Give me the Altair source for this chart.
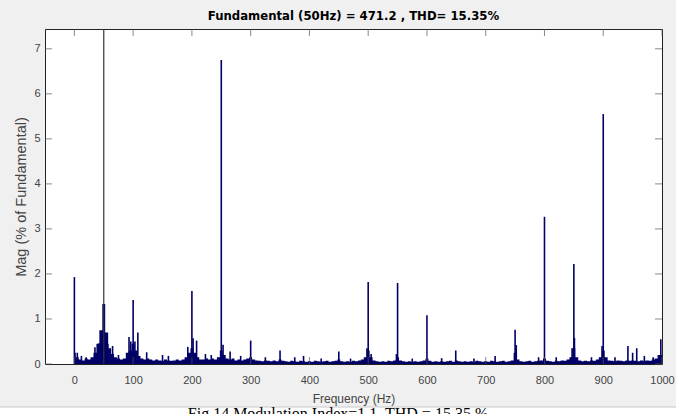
import altair as alt
import pandas as pd

# ---------------- data ----------------
TITLE = "Fundamental (50Hz) = 471.2 , THD= 15.35%"
CAPTION = "Fig.14 Modulation Index=1.1, THD = 15.35 %"

# noise floor of the spectrum, every 5 Hz from 0 to 1000 Hz (% of fundamental)
floor_mag = [
    0.25, 0.15, 0.10, 0.08, 0.12, 0.10, 0.15, 0.25, 0.45, 0.75, 1.33, 0.70, 0.35, 0.22, 0.15, 0.12, 0.10, 0.12, 0.25, 0.30,
    0.45, 0.30, 0.18, 0.12, 0.10, 0.12, 0.10, 0.08, 0.10, 0.08, 0.07, 0.10, 0.08, 0.07, 0.08, 0.10, 0.08, 0.10, 0.15, 0.25,
    0.35, 0.25, 0.15, 0.10, 0.10, 0.12, 0.10, 0.12, 0.10, 0.15, 0.30, 0.20, 0.12, 0.10, 0.12, 0.08, 0.10, 0.08, 0.10, 0.12,
    0.15, 0.10, 0.08, 0.07, 0.06, 0.08, 0.07, 0.06, 0.08, 0.06, 0.10, 0.07, 0.06, 0.05, 0.07, 0.06, 0.05, 0.07, 0.06, 0.05,
    0.06, 0.05, 0.07, 0.06, 0.05, 0.06, 0.07, 0.05, 0.06, 0.07, 0.10, 0.06, 0.05, 0.06, 0.05, 0.07, 0.06, 0.08, 0.10, 0.15,
    0.30, 0.15, 0.08, 0.06, 0.05, 0.06, 0.05, 0.07, 0.06, 0.08, 0.15, 0.08, 0.06, 0.05, 0.06, 0.05, 0.06, 0.05, 0.06, 0.08,
    0.12, 0.07, 0.05, 0.06, 0.05, 0.06, 0.05, 0.06, 0.07, 0.05, 0.08, 0.06, 0.05, 0.06, 0.05, 0.06, 0.05, 0.07, 0.06, 0.05,
    0.06, 0.05, 0.07, 0.06, 0.05, 0.06, 0.07, 0.05, 0.06, 0.08, 0.25, 0.10, 0.06, 0.05, 0.06, 0.07, 0.05, 0.06, 0.07, 0.08,
    0.12, 0.07, 0.06, 0.05, 0.07, 0.06, 0.08, 0.07, 0.10, 0.15, 0.35, 0.15, 0.08, 0.06, 0.07, 0.06, 0.08, 0.07, 0.10, 0.15,
    0.30, 0.15, 0.08, 0.07, 0.06, 0.08, 0.07, 0.06, 0.08, 0.07, 0.08, 0.07, 0.06, 0.08, 0.07, 0.08, 0.07, 0.10, 0.12, 0.20,
    0.20,
]
floor_freq = [i * 5 for i in range(len(floor_mag))]

# individual harmonic / inter-harmonic lines
spike_freq = [0, 100, 200, 250, 300, 500, 550, 600, 750, 800, 850, 900, 998,
              5, 12, 20, 35, 42, 57, 65, 75, 93, 96, 103, 108, 123, 150, 160,
              193, 202, 208, 223, 233, 253, 265, 283, 325, 350, 375, 390, 420,
              450, 470, 498, 505, 548, 575, 625, 649, 680, 716, 752, 790, 820,
              847, 851, 880, 898, 920, 942, 950, 957, 970, 985]
spike_mag = [1.93, 1.42, 1.62, 6.75, 0.52, 1.82, 1.80, 1.08, 0.76, 3.27, 2.22, 5.55, 0.55,
             0.25, 0.18, 0.15, 0.37, 0.46, 0.45, 0.40, 0.20, 0.60, 0.50, 0.50, 0.70, 0.26, 0.20, 0.18,
             0.38, 0.57, 0.52, 0.22, 0.20, 0.43, 0.28, 0.18, 0.15, 0.30, 0.15, 0.18, 0.12,
             0.28, 0.12, 0.35, 0.22, 0.22, 0.12, 0.13, 0.30, 0.12, 0.18, 0.42, 0.15, 0.15,
             0.35, 0.58, 0.15, 0.40, 0.15, 0.40, 0.25, 0.35, 0.18, 0.15]

fund_freq = [50]
fund_mag = [100.0]

x_ticks = [0, 100, 200, 300, 400, 500, 600, 700, 800, 900, 1000]
y_ticks = [0, 1, 2, 3, 4, 5, 6, 7]

# ---------------- chart ----------------
W, H = 617, 335
NAVY = "#000066"
LABEL = "#444444"
FONT = "Liberation Sans, Arial, sans-serif"

xs = alt.Scale(domain=[-50, 1000], nice=False, zero=False)
ys = alt.Scale(domain=[0, 7.44], nice=False, zero=True)

floor_df = pd.DataFrame({"f": floor_freq, "m": floor_mag})
spike_df = pd.DataFrame({"f": spike_freq, "m": spike_mag})
fund_df = pd.DataFrame({"f": fund_freq, "m": fund_mag})
xt_df = pd.DataFrame({"f": x_ticks})
yt_df = pd.DataFrame({"v": y_ticks})
one = pd.DataFrame({"a": [0]})

xaxis = alt.Axis(values=x_ticks, format="d", ticks=False, domain=False, grid=False,
                 labelPadding=10, labelFontSize=11, labelColor=LABEL, labelFont=FONT,
                 title="Frequency (Hz)", titleFontSize=12, titleFontWeight="normal",
                 titleColor=LABEL, titleFont=FONT, titlePadding=8, labelFlush=False)
yaxis = alt.Axis(values=y_ticks, format="d", ticks=False, domain=False, grid=False,
                 labelPadding=5, labelFontSize=11, labelColor=LABEL, labelFont=FONT,
                 title="Mag (% of Fundamental)", titleFontSize=14.5, titleFontWeight="normal",
                 titleColor=LABEL, titleFont=FONT, titlePadding=5)

area = alt.Chart(floor_df).mark_area(interpolate="step", color=NAVY, clip=True).encode(
    x=alt.X("f:Q", scale=xs, axis=xaxis),
    y=alt.Y("m:Q", scale=ys, axis=yaxis),
)

spikes = alt.Chart(spike_df).mark_rule(color=NAVY, strokeWidth=1.6, clip=True).encode(
    x=alt.X("f:Q", scale=xs),
    y=alt.Y("m:Q", scale=ys),
    y2=alt.datum(0),
)

fund = alt.Chart(fund_df).mark_rule(color="#333333", strokeWidth=1.2, clip=True).encode(
    x=alt.X("f:Q", scale=xs),
    y=alt.Y("m:Q", scale=ys),
    y2=alt.datum(0),
)

tick_style = dict(color="#555555", thickness=1, size=7)
top_ticks = alt.Chart(xt_df).mark_tick(**tick_style).encode(
    x=alt.X("f:Q", scale=xs), y=alt.value(3.5))
bot_ticks = alt.Chart(xt_df).mark_tick(**tick_style).encode(
    x=alt.X("f:Q", scale=xs), y=alt.value(H - 3.5))
left_ticks = alt.Chart(yt_df).mark_tick(**tick_style).encode(
    y=alt.Y("v:Q", scale=ys), x=alt.value(3.5))
right_ticks = alt.Chart(yt_df).mark_tick(**tick_style).encode(
    y=alt.Y("v:Q", scale=ys), x=alt.value(W - 3.5))

# white strip with the (cut off) figure caption at the bottom of the picture
strip = alt.Chart(one).mark_rect(color="white").encode(
    x=alt.value(-45), x2=alt.value(W + 14), y=alt.value(378), y2=alt.value(400))
strip_line = alt.Chart(one).mark_rule(color="#c8c8c8", strokeWidth=1).encode(
    x=alt.value(-45), x2=alt.value(W + 14), y=alt.value(378))
caption = alt.Chart(one).mark_text(
    text=CAPTION, font="Liberation Serif, Times New Roman, serif", fontSize=16,
    color="black", align="center", baseline="alphabetic").encode(
    x=alt.value(338 - 45), y=alt.value(390))

chart = alt.layer(
    area, spikes, fund, top_ticks, bot_ticks, left_ticks, right_ticks,
    strip, strip_line, caption,
).properties(
    width=W, height=H,
    title=alt.TitleParams(TITLE, font="Liberation Sans Narrow, DejaVu Sans Condensed, sans-serif",
                          fontSize=13, fontWeight="bold", color="black",
                          anchor="middle", offset=6),
    autosize=alt.AutoSizeParams(type="none"),
    padding={"left": 45, "top": 29, "right": 14, "bottom": 50},
    background="#f0f0f0",
).configure_view(
    stroke="#222222", strokeWidth=1, fill="white"
)

chart.save("out.html", embed_options={"renderer": "svg", "actions": False})
